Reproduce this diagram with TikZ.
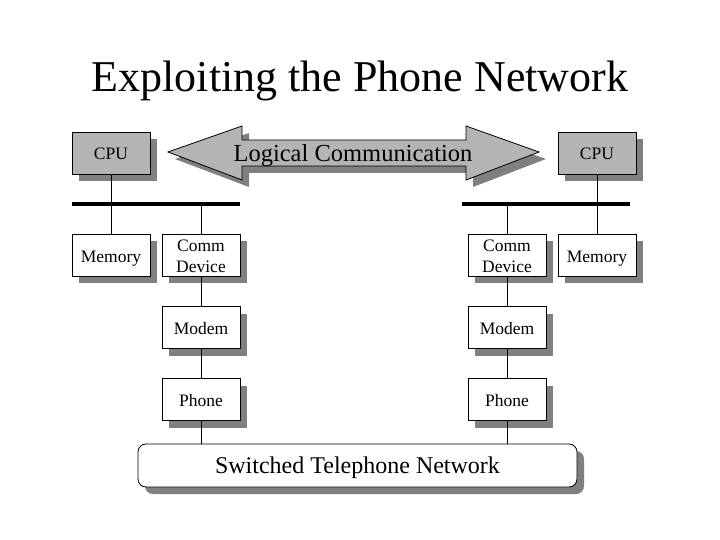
\documentclass[tikz,border=0pt]{standalone}
\usepackage{fontspec}
\setmainfont{Liberation Serif}
\usetikzlibrary{shadows}
\definecolor{boxgray}{HTML}{B4B4B4}
\definecolor{shadowgray}{HTML}{808080}
\tikzset{
  unit/.style={draw=black, line width=0.8pt, fill=white, minimum width=78pt, minimum height=42pt,
    inner sep=0pt, align=center, font=\fontsize{17.5}{21}\selectfont, text height=17pt, text depth=3pt,
    drop shadow={shadow xshift=7pt, shadow yshift=-7pt, fill=shadowgray, opacity=1}},
  twoline/.style={unit, text height=38pt},
  cpubox/.style={unit, fill=boxgray},
  wire/.style={line width=0.8pt},
  bus/.style={line width=4pt},
}
\begin{document}
\begin{tikzpicture}[x=1pt,y=-1pt]
\useasboundingbox (0,0) rectangle (720,540);
\node (title) at (360,81) {\fontsize{44}{50}\selectfont Exploiting the Phone Network};
% arrow
\fill[shadowgray, shift={(7,7)}] (168,152) -- (242,126) -- (242,140) -- (466,140) -- (466,126) -- (539,152) -- (466,180) -- (466,166) -- (242,166) -- (242,180) -- cycle;
\draw[fill=boxgray, line width=0.8pt] (168,152) -- (242,126) -- (242,140) -- (466,140) -- (466,126) -- (539,152) -- (466,180) -- (466,166) -- (242,166) -- (242,180) -- cycle;
\node[font=\fontsize{24.5}{28}\selectfont, text height=21.6pt, text depth=3pt, inner sep=0pt] (logic) at (353,152) {Logical Communication};
% buses
\coordinate (busLa) at (72,204);
\coordinate (busLb) at (240,204);
\coordinate (busRa) at (462,204);
\coordinate (busRb) at (630,204);
\draw[bus] (busLa) -- (busLb);
\draw[bus] (busRa) -- (busRb);
% boxes
\node[cpubox] (cpuL) at (111,153) {CPU};
\node[unit] (memL) at (111,255) {Memory};
\node[twoline] (comL) at (201,255) {Comm\\Device};
\node[unit] (modL) at (201,327.5) {Modem};
\node[unit] (phL) at (201,399.5) {Phone};
\node[cpubox] (cpuR) at (597,153) {CPU};
\node[unit] (memR) at (597,255) {Memory};
\node[twoline] (comR) at (507,255) {Comm\\Device};
\node[unit] (modR) at (507,327.5) {Modem};
\node[unit] (phR) at (507,399.5) {Phone};
\node[unit, minimum width=439pt, minimum height=43pt, rounded corners=8pt, font=\fontsize{24}{28}\selectfont, text height=20pt, text depth=4.4pt] (net) at (357.5,465.5) {Switched Telephone Network};
% wires
\draw[wire] (cpuL.south) -- (cpuL.south |- busLa);
\draw[wire] (memL.north) -- (memL.north |- busLa);
\draw[wire] (comL.north) -- (comL.north |- busLa);
\draw[wire] (comL.south) -- (modL.north);
\draw[wire] (modL.south) -- (phL.north);
\draw[wire] (phL.south) -- (phL.south |- net.north);
\draw[wire] (cpuR.south) -- (cpuR.south |- busRa);
\draw[wire] (memR.north) -- (memR.north |- busRa);
\draw[wire] (comR.north) -- (comR.north |- busRa);
\draw[wire] (comR.south) -- (modR.north);
\draw[wire] (modR.south) -- (phR.north);
\draw[wire] (phR.south) -- (phR.south |- net.north);
\end{tikzpicture}
\end{document}
